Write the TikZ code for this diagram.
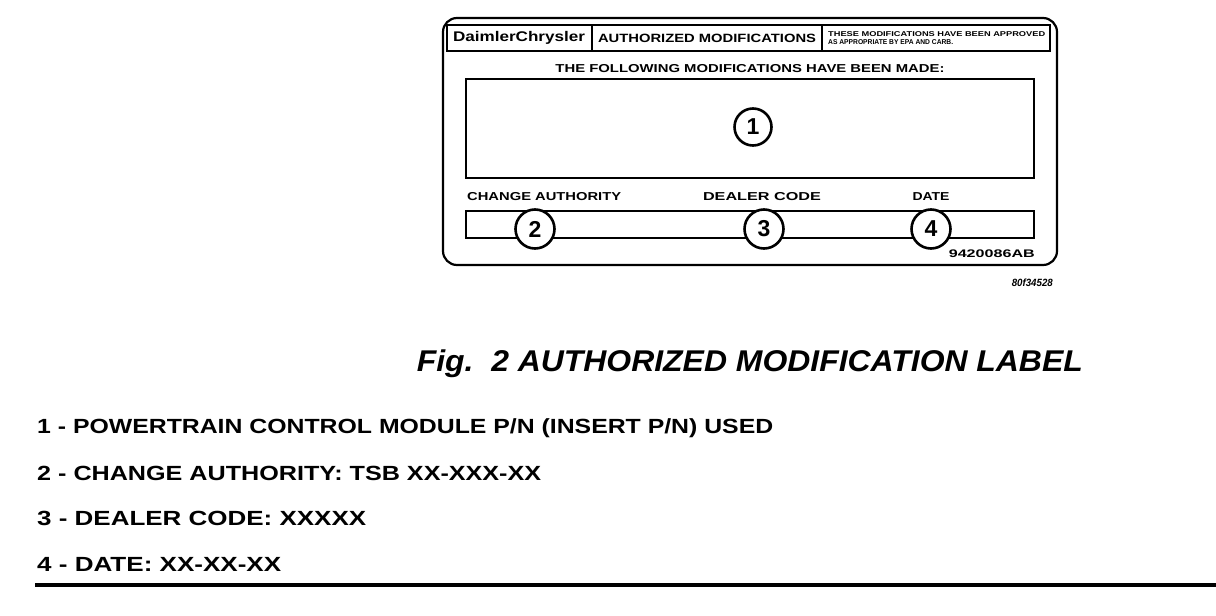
\documentclass[tikz,border=0pt]{standalone}
\usepackage{fontspec}
\usepackage{graphicx}
\setmainfont{Liberation Sans}
\newcommand\fitw[2]{\resizebox{#1pt}{\height}{#2}}
\begin{document}
\begin{tikzpicture}[x=1pt,y=-1pt,
  frame/.style={draw,line width=2.2pt},
  num/.style={circle,draw,line width=2.6pt,fill=white,minimum size=39pt,inner sep=0pt,font=\fontsize{23}{23}\selectfont\bfseries},
  lbl/.style={font=\fontsize{11.5}{11.5}\selectfont\bfseries,inner sep=0pt},
  legend/.style={anchor=west,inner sep=0pt,font=\fontsize{20.5}{22}\selectfont\bfseries}]
\useasboundingbox (0,0) rectangle (1216,616);
% outer label
\draw[frame,rounded corners=14pt] (443,18) rectangle (1057,265);
\draw[line width=1.6pt] (447,25) rectangle (1050,51);
\draw[line width=1.6pt] (592,25) -- (592,51);
\draw[line width=1.6pt] (822,25) -- (822,51);
\node[lbl,font=\fontsize{14}{14}\selectfont\bfseries] (dc) at (519,38) {\fitw{132}{DaimlerChrysler}};
\node[lbl,font=\fontsize{12}{12}\selectfont\bfseries] (am) at (707,38) {\fitw{218}{AUTHORIZED MODIFICATIONS}};
\node[lbl,align=left,anchor=west,font=\fontsize{7}{7.5}\selectfont\bfseries] (ap) at (828,38) {\fitw{217}{THESE MODIFICATIONS HAVE BEEN APPROVED}\\\fitw{125}{AS APPROPRIATE BY EPA AND CARB.}};
\node[lbl] (made) at (750,69) {\fitw{389}{THE FOLLOWING MODIFICATIONS HAVE BEEN MADE:}};
\draw[frame] (466,79) rectangle (1034,178);
\node[num,minimum size=37pt] (n1) at (753,127) {1};
\node[lbl,anchor=west] (ca) at (467,197) {\fitw{154}{CHANGE AUTHORITY}};
\node[lbl] (dl) at (762,197) {\fitw{118}{DEALER CODE}};
\node[lbl] (dt) at (931,197) {\fitw{37}{DATE}};
\draw[frame] (466,211) rectangle (1034,238);
\node[num] (n2) at (535,229) {2};
\node[num] (n3) at (764,229) {3};
\node[num] (n4) at (931,229) {4};
\node[lbl,anchor=east,font=\fontsize{11}{11}\selectfont\bfseries] (code) at (1035,254) {\fitw{86}{9420086AB}};
\node[lbl,anchor=east,font=\fontsize{10.5}{10.5}\selectfont\bfseries\itshape] (fig) at (1053,283) {\fitw{41}{80f34528}};
% caption
\node[anchor=east,inner sep=0pt,font=\fontsize{30}{30}\selectfont\bfseries\itshape] (cap) at (1083,364) {\fitw{666}{Fig.\ \ 2 AUTHORIZED MODIFICATION LABEL}};
% legend
\node[legend] (l1) at (37,428) {\fitw{736}{1 - POWERTRAIN CONTROL MODULE P/N (INSERT P/N) USED}};
\node[legend] (l2) at (37,473) {\fitw{504}{2 - CHANGE AUTHORITY: TSB XX-XXX-XX}};
\node[legend] (l3) at (37,518) {\fitw{329}{3 - DEALER CODE: XXXXX}};
\node[legend] (l4) at (37,564) {\fitw{244}{4 - DATE: XX-XX-XX}};
\draw[line width=4pt] (35,585) -- (1216,585);
\end{tikzpicture}
\end{document}
